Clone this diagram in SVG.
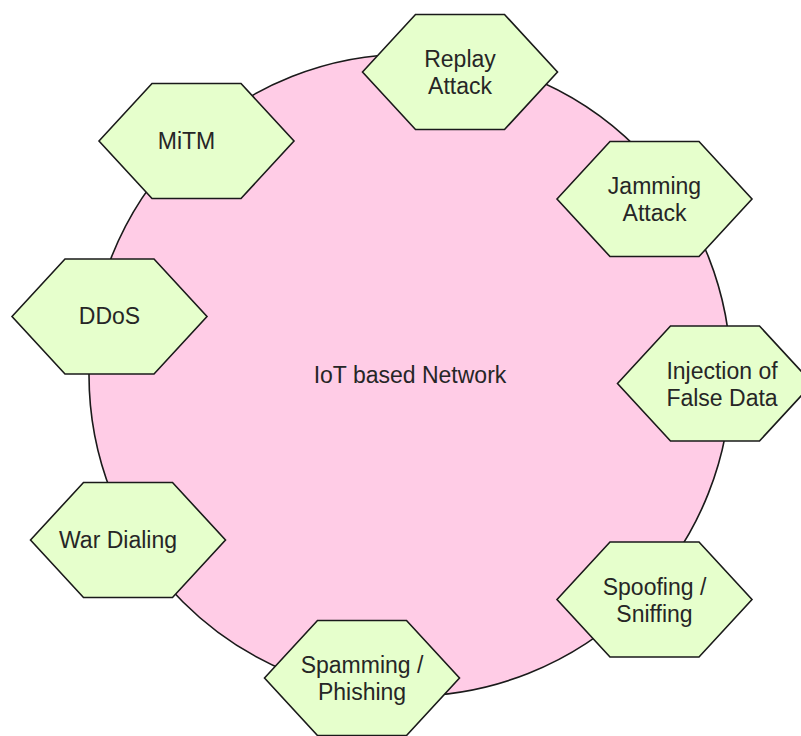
<svg xmlns="http://www.w3.org/2000/svg" xmlns:xlink="http://www.w3.org/1999/xlink" width="801" height="736" viewBox="0 0 801 736">
  <style>
    .net { fill: #ffcce6; stroke: #1a1a1a; stroke-width: 1.6; }
    .hex { fill: #e6ffcc; stroke: #1a1a1a; stroke-width: 1.6; stroke-linejoin: miter; }
    .lbl { font-family: "Liberation Sans", Arial, sans-serif; font-size: 23px; fill: #262626; text-anchor: middle; }
  </style>
  <defs>
    <polygon id="hexShape" points="-97.5,0 -44.5,-57.5 44.5,-57.5 97.5,0 44.5,57.5 -44.5,57.5"/>
  </defs>
  <rect width="801" height="736" fill="#ffffff"/>

  <!-- central network -->
  <g id="network">
    <ellipse class="net" cx="410" cy="375" rx="321" ry="321"/>
    <text class="lbl" x="410" y="383">IoT based Network</text>
  </g>

  <!-- no explicit connectors: attacks sit on the network boundary -->
  <g id="connectors"></g>

  <g id="replay" transform="translate(460,72)">
    <use class="hex" xlink:href="#hexShape" href="#hexShape"/>
    <text class="lbl" x="0" y="-5">Replay</text>
    <text class="lbl" x="0" y="22">Attack</text>
  </g>

  <g id="mitm" transform="translate(196.5,141)">
    <use class="hex" xlink:href="#hexShape" href="#hexShape"/>
    <text class="lbl" x="-10" y="7.5">MiTM</text>
  </g>

  <g id="ddos" transform="translate(109.5,316.5)">
    <use class="hex" xlink:href="#hexShape" href="#hexShape"/>
    <text class="lbl" x="0" y="7.5">DDoS</text>
  </g>

  <g id="jamming" transform="translate(654.5,199)">
    <use class="hex" xlink:href="#hexShape" href="#hexShape"/>
    <text class="lbl" x="0" y="-5">Jamming</text>
    <text class="lbl" x="0" y="22">Attack</text>
  </g>

  <g id="injection" transform="translate(715,383.5)">
    <use class="hex" xlink:href="#hexShape" href="#hexShape"/>
    <text class="lbl" x="7" y="-5">Injection of</text>
    <text class="lbl" x="7" y="22">False Data</text>
  </g>

  <g id="war-dialing" transform="translate(128,540)">
    <use class="hex" xlink:href="#hexShape" href="#hexShape"/>
    <text class="lbl" x="-10" y="7.5">War Dialing</text>
  </g>

  <g id="spoofing" transform="translate(654.5,599.5)">
    <use class="hex" xlink:href="#hexShape" href="#hexShape"/>
    <text class="lbl" x="0" y="-5">Spoofing /</text>
    <text class="lbl" x="0" y="22">Sniffing</text>
  </g>

  <g id="spamming" transform="translate(362,678)">
    <use class="hex" xlink:href="#hexShape" href="#hexShape"/>
    <text class="lbl" x="0" y="-5">Spamming /</text>
    <text class="lbl" x="0" y="22">Phishing</text>
  </g>
</svg>
